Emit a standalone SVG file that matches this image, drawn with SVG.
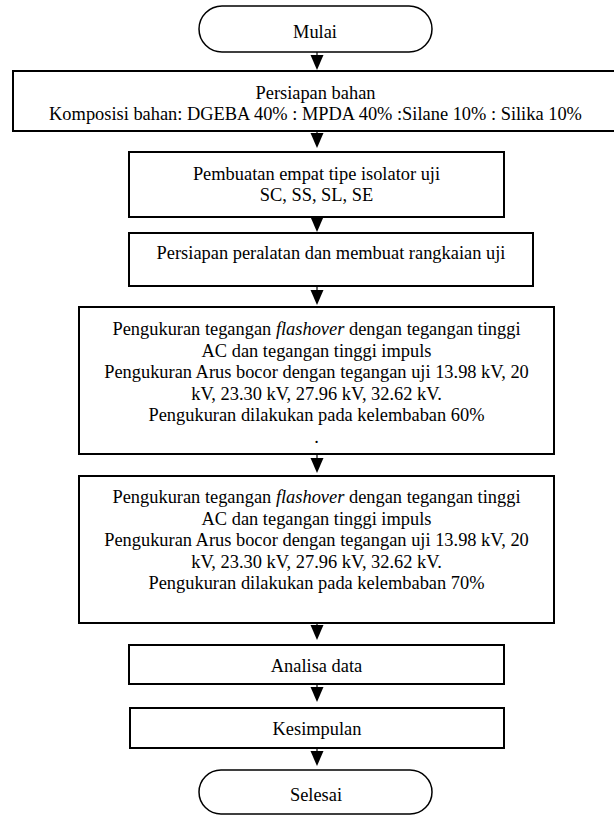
<svg xmlns="http://www.w3.org/2000/svg" width="614" height="816" viewBox="0 0 614 816">
<style>
  .box { fill: #fff; stroke: #000; stroke-width: 2; }
  .term { fill: #fff; stroke: #000; stroke-width: 1.5; }
  .t { font-family: "Liberation Serif", "Times New Roman", serif; font-size: 18.4px; fill: #000; text-anchor: middle; }
  .ln { stroke: #000; stroke-width: 1.2; fill: none; }
  .hd { fill: #000; stroke: none; }
  .it { font-style: italic; }
</style>
<rect width="614" height="816" fill="#fff"/>

<g id="connectors">
  <line class="ln" x1="317" y1="52" x2="317" y2="60"/>
  <polygon class="hd" points="310.5,55 323.5,55 317,70"/>
  <line class="ln" x1="317" y1="131" x2="317" y2="140"/>
  <polygon class="hd" points="310.5,133 323.5,133 317,148"/>
  <line class="ln" x1="317" y1="217" x2="317" y2="225"/>
  <polygon class="hd" points="310.5,217 323.5,217 317,232"/>
  <line class="ln" x1="317" y1="286" x2="317" y2="295"/>
  <polygon class="hd" points="310.5,290 323.5,290 317,305"/>
  <line class="ln" x1="317" y1="454" x2="317" y2="465"/>
  <polygon class="hd" points="310.5,458 323.5,458 317,473"/>
  <line class="ln" x1="317" y1="623" x2="317" y2="632"/>
  <polygon class="hd" points="310.5,625 323.5,625 317,640"/>
  <line class="ln" x1="317" y1="684" x2="317" y2="692"/>
  <polygon class="hd" points="310.5,687 323.5,687 317,702"/>
  <line class="ln" x1="317" y1="748" x2="317" y2="756"/>
  <polygon class="hd" points="310.5,751 323.5,751 317,766"/>
</g>

<g id="mulai">
  <rect class="term" x="199" y="6" width="233" height="46" rx="23" ry="23"/>
  <text class="t" x="315" y="38">Mulai</text>
</g>

<g id="persiapan-bahan">
  <rect class="box" x="13" y="71" width="620" height="60"/>
  <text class="t" x="315.5" y="99">Persiapan bahan</text>
  <text class="t" x="315.5" y="120">Komposisi bahan: DGEBA 40% : MPDA 40% :Silane 10% : Silika 10%</text>
</g>

<g id="pembuatan">
  <rect class="box" x="129" y="152" width="375" height="65"/>
  <text class="t" x="316.5" y="180">Pembuatan empat tipe isolator uji</text>
  <text class="t" x="316.5" y="201">SC, SS, SL, SE</text>
</g>

<g id="persiapan-peralatan">
  <rect class="box" x="129" y="233" width="404" height="53"/>
  <text class="t" x="331" y="259">Persiapan peralatan dan membuat rangkaian uji</text>
</g>

<g id="pengukuran-60">
  <rect class="box" x="79" y="307" width="475" height="147"/>
  <text class="t" x="316.5" y="335">Pengukuran tegangan <tspan class="it">flashover</tspan> dengan tegangan tinggi</text>
  <text class="t" x="316.5" y="356.5">AC dan tegangan tinggi impuls</text>
  <text class="t" x="316.5" y="378">Pengukuran Arus bocor dengan tegangan uji 13.98 kV, 20</text>
  <text class="t" x="316.5" y="399.5">kV, 23.30 kV, 27.96 kV, 32.62 kV.</text>
  <text class="t" x="316.5" y="421">Pengukuran dilakukan pada kelembaban 60%</text>
  <text class="t" x="316.5" y="442.5">.</text>
</g>

<g id="pengukuran-70">
  <rect class="box" x="79" y="476" width="475" height="147"/>
  <text class="t" x="316.5" y="503">Pengukuran tegangan <tspan class="it">flashover</tspan> dengan tegangan tinggi</text>
  <text class="t" x="316.5" y="524.5">AC dan tegangan tinggi impuls</text>
  <text class="t" x="316.5" y="546">Pengukuran Arus bocor dengan tegangan uji 13.98 kV, 20</text>
  <text class="t" x="316.5" y="567.5">kV, 23.30 kV, 27.96 kV, 32.62 kV.</text>
  <text class="t" x="316.5" y="589">Pengukuran dilakukan pada kelembaban 70%</text>
</g>

<g id="analisa">
  <rect class="box" x="129" y="645" width="375" height="39"/>
  <text class="t" x="316.5" y="672">Analisa data</text>
</g>

<g id="kesimpulan">
  <rect class="box" x="130" y="708" width="374" height="40"/>
  <text class="t" x="317" y="735">Kesimpulan</text>
</g>

<g id="selesai">
  <rect class="term" x="199" y="770" width="233" height="44" rx="22" ry="22"/>
  <text class="t" x="316" y="801">Selesai</text>
</g>
</svg>
